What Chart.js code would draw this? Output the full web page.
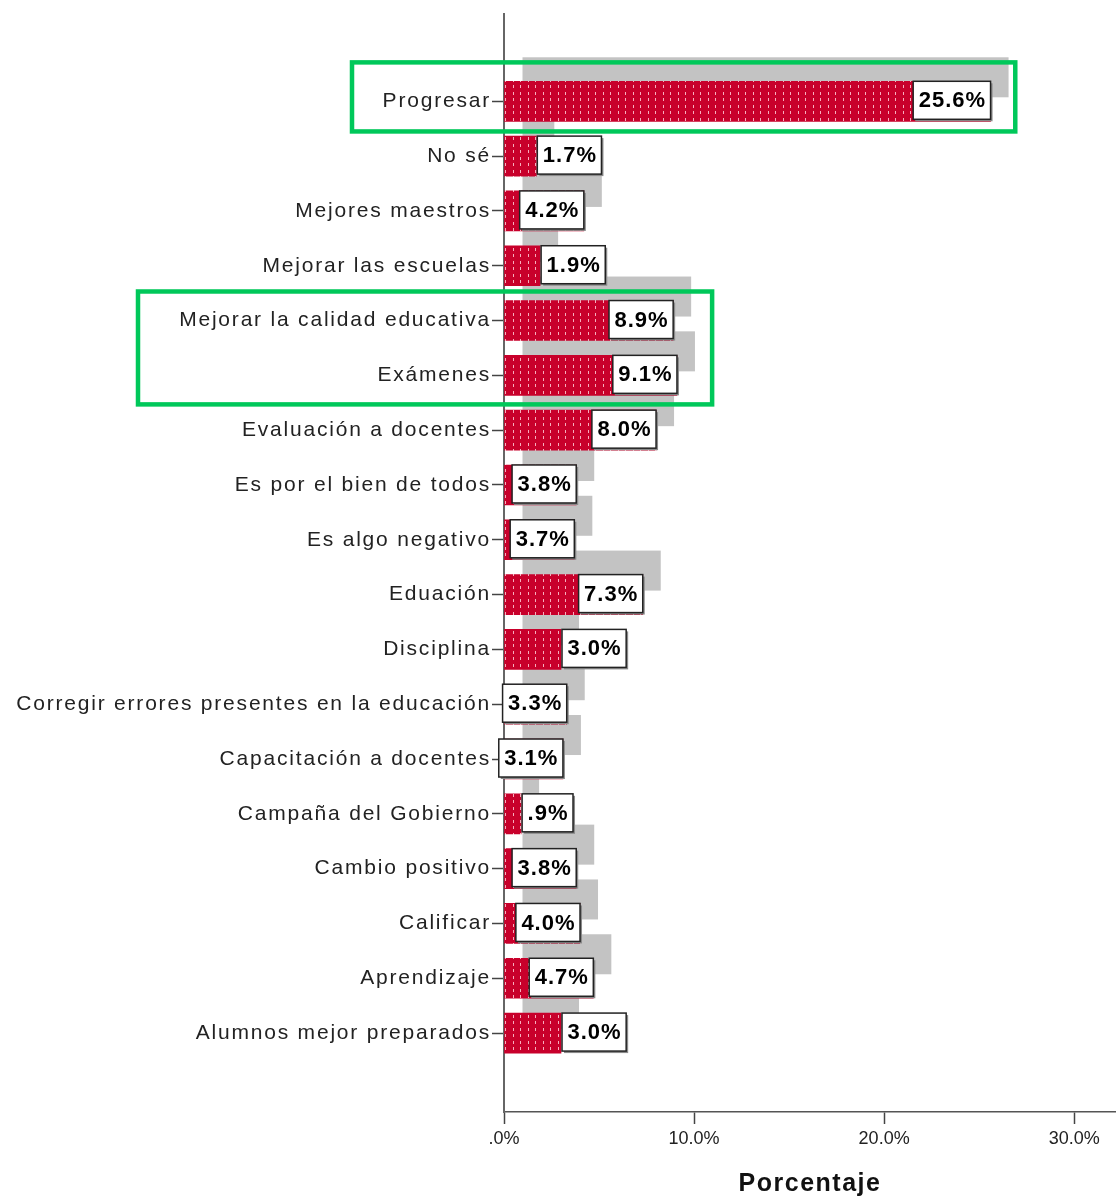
<!DOCTYPE html>
<html>
<head>
<meta charset="utf-8">
<script src="https://cdn.jsdelivr.net/npm/chart.js@4.4.1/dist/chart.umd.min.js"></script>
<style>
  html, body { margin: 0; padding: 0; background: #fff; }
  #chart { display: block; }
</style>
</head>
<body>
<canvas id="chart" width="1116" height="1199"></canvas>
<script>
  const categories = [
    "Progresar",
    "No sé",
    "Mejores maestros",
    "Mejorar las escuelas",
    "Mejorar la calidad educativa",
    "Exámenes",
    "Evaluación a docentes",
    "Es por el bien de todos",
    "Es algo negativo",
    "Eduación",
    "Disciplina",
    "Corregir errores presentes en la educación",
    "Capacitación a docentes",
    "Campaña del Gobierno",
    "Cambio positivo",
    "Calificar",
    "Aprendizaje",
    "Alumnos mejor preparados"
  ];
  const percentages = [25.6, 1.7, 4.2, 1.9, 8.9, 9.1, 8.0, 3.8, 3.7, 7.3, 3.0, 3.3, 3.1, 0.9, 3.8, 4.0, 4.7, 3.0];
  const xTickValues = [0, 10, 20, 30];
  const highlighted = [[0, 0], [4, 5]];

  // SPSS style percent: ".9%", "10.0%"
  function fmt(v) {
    let s = v.toFixed(1);
    if (s.startsWith('0')) s = s.slice(1);
    return s + '%';
  }

  function makePattern() {
    const c = document.createElement('canvas');
    c.width = 15; c.height = 13;
    const g = c.getContext('2d');
    g.fillStyle = '#c8002b';
    g.fillRect(0, 0, 15, 13);
    g.fillStyle = 'rgba(255,205,215,0.85)';
    [[3, 1], [10, 1], [3, 7], [10, 7]].forEach(p => g.fillRect(p[0], p[1], 1, 3));
    return document.getElementById('chart').getContext('2d').createPattern(c, 'repeat');
  }

  const shadowBars = {
    id: 'shadowBars',
    beforeDatasetsDraw(chart) {
      const ctx = chart.ctx;
      ctx.save();
      ctx.fillStyle = '#c3c3c3';
      chart.getDatasetMeta(0).data.forEach(bar => {
        const h = bar.height;
        ctx.fillRect(bar.base + 18, bar.y - h / 2 - 24, bar.x - bar.base, h);
      });
      ctx.restore();
    }
  };

  const valueBoxes = {
    id: 'valueBoxes',
    afterDatasetsDraw(chart) {
      const ctx = chart.ctx;
      ctx.save();
      ctx.font = 'bold 22px "Liberation Sans", Arial, sans-serif';
      ctx.letterSpacing = '1px';
      ctx.textAlign = 'center';
      ctx.textBaseline = 'middle';
      chart.getDatasetMeta(0).data.forEach((bar, i) => {
        const txt = fmt(percentages[i]);
        const w = ctx.measureText(txt).width + 10;
        const h = 38;
        const len = bar.x - bar.base;
        const left = len >= w * 0.9 ? bar.x - w : bar.x + 1;
        const top = bar.y - h / 2 - 1;
        ctx.fillStyle = '#8a8a8a';
        ctx.fillRect(left + 2, top + 2, w, h);
        ctx.fillStyle = '#fff';
        ctx.fillRect(left, top, w, h);
        ctx.strokeStyle = '#222';
        ctx.lineWidth = 1.5;
        ctx.strokeRect(left, top, w, h);
        ctx.fillStyle = '#000';
        ctx.fillText(txt, left + w / 2 + 0.5, bar.y);
      });
      ctx.restore();
    }
  };

  // green boxes drawn over the chart
  const highlightBoxes = {
    id: 'highlightBoxes',
    afterDraw(chart) {
      const ctx = chart.ctx;
      const ys = chart.scales.y, xs = chart.scales.x;
      const boxes = [
        { r: highlighted[0], left: 352, right: 26.9, padTop: 0.71, padBot: 0.55 },
        { r: highlighted[1], left: 138, right: 10.95, padTop: 0.53, padBot: 0.53 }
      ];
      ctx.save();
      ctx.strokeStyle = '#00c85a';
      ctx.lineWidth = 4.5;
      boxes.forEach(b => {
        const top = ys.getPixelForValue(b.r[0] - b.padTop);
        const bot = ys.getPixelForValue(b.r[1] + b.padBot);
        const right = xs.getPixelForValue(b.right);
        ctx.strokeRect(b.left, top, right - b.left, bot - top);
      });
      ctx.restore();
    }
  };

  const spacedText = {
    id: 'spacedText',
    beforeDraw(chart) {
      const y = chart.scales.y, x = chart.scales.x;
      if (!y._spaced) {
        const orig = y.drawLabels.bind(y);
        y.drawLabels = function (area) {
          const c = this.ctx; c.save(); c.letterSpacing = '1.8px'; orig(area); c.restore();
        };
        y._spaced = true;
      }
      if (!x._spaced) {
        const origT = x.drawTitle.bind(x);
        x.drawTitle = function (area) {
          const c = this.ctx; c.save(); c.letterSpacing = '1.5px'; origT(area); c.restore();
        };
        x._spaced = true;
      }
    }
  };

  new Chart(document.getElementById('chart'), {
    type: 'bar',
    data: {
      datasets: [{
        data: percentages.map((v, i) => ({ x: v, y: i })),
        backgroundColor: makePattern(),
        borderWidth: 0,
        barThickness: 40
      }]
    },
    options: {
      responsive: false,
      animation: false,
      devicePixelRatio: 1,
      indexAxis: 'y',
      layout: { padding: { top: 0, right: 0, bottom: 0, left: 0 } },
      scales: {
        x: {
          type: 'linear',
          min: 0,
          max: 32.2,
          afterFit(scale) { scale.height = 87; },
          afterBuildTicks(scale) { scale.ticks = xTickValues.map(v => ({ value: v })); },
          ticks: {
            includeBounds: false,
            callback: v => fmt(v),
            font: { size: 18, family: '"Liberation Sans", Arial, sans-serif' },
            color: '#222',
            padding: 4,
            maxRotation: 0
          },
          grid: { drawOnChartArea: false, tickLength: 12, tickColor: '#444', tickWidth: 1.5 },
          border: { color: '#555', width: 1.5 },
          title: {
            display: true,
            text: 'Porcentaje',
            font: { size: 25, weight: 'bold', family: '"Liberation Sans", Arial, sans-serif' },
            color: '#111',
            padding: { top: 0, bottom: 0 }
          }
        },
        y: {
          type: 'linear',
          reverse: true,
          offset: false,
          min: -1.6,
          max: 18.44,
          afterFit(scale) { scale.width = 504; },
          afterBuildTicks(scale) { scale.ticks = categories.map((c, i) => ({ value: i })); },
          ticks: {
            autoSkip: false,
            callback: v => categories[v],
            font: { size: 21, family: '"Liberation Sans", Arial, sans-serif' },
            color: '#222',
            padding: 1
          },
          grid: { offset: false, drawOnChartArea: false, tickLength: 12, tickColor: '#444', tickWidth: 1.5 },
          border: { color: '#666', width: 2 }
        }
      },
      plugins: {
        legend: { display: false },
        tooltip: { enabled: false }
      }
    },
    plugins: [spacedText, shadowBars, valueBoxes, highlightBoxes]
  });
</script>
</body>
</html>
